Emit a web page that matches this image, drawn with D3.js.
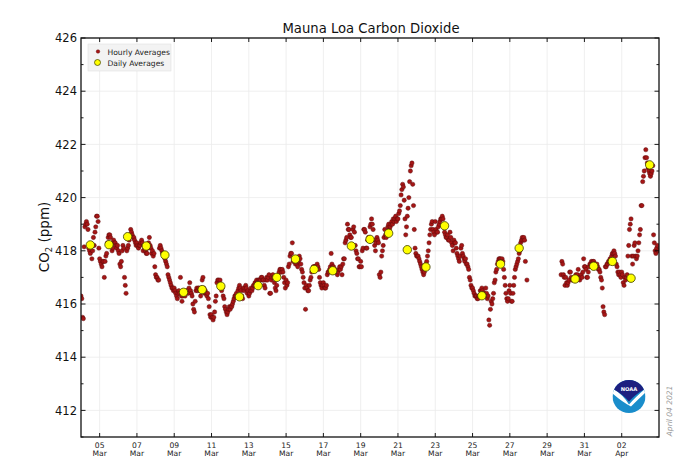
<!DOCTYPE html>
<html><head><meta charset="utf-8">
<script src="https://cdn.jsdelivr.net/npm/d3@7/dist/d3.min.js"></script>
<style>body{margin:0;background:#fff}svg{display:block;font-family:"DejaVu Sans",sans-serif}</style>
</head><body><svg id="c" width="680" height="476"></svg>
<script>
const startDate = "2021-03-04";
const xDomain = ["2021-03-04", "2021-04-04"];
const yDomain = [411, 426];
const yMajorTicks = [412, 414, 416, 418, 420, 422, 424, 426];
const yMinorTicks = [411, 413, 415, 417, 419, 421, 423, 425];
const xTickDates = ["2021-03-05","2021-03-07","2021-03-09","2021-03-11","2021-03-13","2021-03-15","2021-03-17","2021-03-19","2021-03-21","2021-03-23","2021-03-25","2021-03-27","2021-03-29","2021-03-31","2021-04-02"];
// hourly averages, one row per day (hours 0..23), null = missing
const hourlyCo2 = [
[416.3,416.2,415.5,415.45,418.15,418.9,419.0,419.1,419.0,418.8,418.1,418.0,417.9,418.2,417.7,418.0,418.5,418.2,418.7,418.9,419.3,419.3,419.1,418.1],
[417.7,417.6,417.5,417.4,417.6,417.6,417.0,417.6,417.8,417.9,418.3,418.5,418.6,418.6,418.5,418.2,418.0,418.1,418.4,418.3,418.3,418.2,418.1,418.2],
[418.0,417.9,417.5,417.4,417.6,418.0,418.2,418.1,417.0,416.7,416.4,418.0,418.1,418.2,418.4,418.6,418.8,418.7,418.6,418.5,418.5,418.4,418.3,418.2],
[418.3,418.2,418.1,418.2,418.2,418.3,418.4,418.3,418.0,418.2,418.1,418.0,417.9,417.9,418.1,418.3,418.5,418.2,418.1,417.9,418.0,417.8,417.9,417.4],
[417.1,417.0,417.0,416.9,416.9,418.1,418.2,418.1,418.0,417.9,417.9,417.8,417.7,417.6,417.5,417.4,417.1,417.0,416.9,416.8,416.7,416.6,416.6,416.5],
[416.6,416.5,416.4,416.3,416.2,416.4,416.5,416.4,417.0,416.3,416.1,416.3,416.4,416.4,416.3,416.4,416.5,416.5,416.4,416.6,416.8,416.5,416.4,416.3],
[416.0,415.8,415.7,416.1,416.5,416.6,416.5,416.6,416.6,416.5,416.3,416.6,416.9,417.0,416.6,416.4,416.5,416.4,416.3,416.4,416.2,415.9,415.6,415.5],
[415.6,415.5,415.4,415.5,415.7,416.1,416.3,416.8,416.9,416.9,416.8,416.9,416.7,416.5,416.6,416.3,416.2,415.9,415.8,415.7,415.6,415.7,415.8,415.9],
[415.8,415.9,415.9,416.0,416.1,416.2,416.3,416.3,416.4,416.3,416.5,416.6,416.7,416.6,416.5,416.3,416.2,416.6,416.5,416.6,416.7,416.6,416.4,416.5],
[416.3,416.4,416.5,416.6,416.5,416.6,416.7,416.7,416.8,416.8,416.9,416.8,416.9,416.9,416.9,416.9,417.0,417.0,416.9,416.9,416.7,416.6,416.9,417.0],
[416.9,417.0,417.1,416.4,416.4,416.9,417.0,417.1,417.0,416.8,416.6,416.5,416.7,417.0,417.1,417.2,417.3,417.3,417.2,417.3,417.2,417.0,416.8,416.6],
[416.9,416.7,416.8,417.4,417.5,417.8,417.9,417.9,418.3,417.6,417.7,417.6,417.5,417.6,417.5,417.4,417.6,417.8,417.7,417.5,417.3,417.2,417.0,416.8],
[416.6,415.8,416.7,416.6,416.5,416.5,416.7,416.9,417.0,417.2,417.3,417.4,417.4,417.4,417.4,417.4,417.5,417.4,417.3,417.0,416.8,416.7,416.6,416.7],
[416.8,416.7,416.6,416.6,416.7,417.1,417.2,417.2,417.3,417.4,417.9,417.5,417.4,417.4,417.3,417.3,417.2,417.2,417.1,417.2,417.3,417.4,417.3,417.4],
[417.1,417.5,417.7,417.7,418.3,418.4,418.5,419.0,418.8,418.8,418.6,418.5,418.5,418.2,418.8,418.9,418.7,418.2,418.0,417.9,417.7,417.7,417.4,417.4],
[417.6,417.4,418.0,418.1,418.8,418.8,418.7,418.1,418.1,418.4,418.5,418.4,418.9,419.0,419.2,419.0,418.8,418.4,418.2,418.0,418.3,418.5,418.4,418.3],
[417.1,417.0,417.2,417.8,418.0,418.2,418.5,418.8,418.6,418.5,418.7,418.9,419.0,418.8,418.9,419.0,419.1,419.0,419.2,419.1,419.2,419.3,419.1,419.2],
[419.2,419.4,419.5,419.7,420.1,420.3,420.5,420.4,419.9,419.2,418.6,418.9,419.3,419.6,420.0,420.6,421.0,421.2,421.3,420.5,419.7,418.8,418.1,417.9],
[417.8,417.8,417.8,417.7,417.6,417.5,417.4,417.3,417.2,417.1,417.2,417.4,417.5,417.6,417.8,418.0,418.3,418.6,418.8,419.0,419.1,418.8,418.7,418.6],
[419.1,418.8,418.7,418.7,418.9,419.0,419.1,419.2,419.2,419.3,419.2,418.9,418.7,418.6,418.5,418.5,418.6,418.4,418.4,418.7,418.5,418.3,418.2,418.0],
[418.4,418.3,418.3,418.1,417.9,417.8,417.7,417.6,417.8,418.1,418.2,417.9,417.8,417.7,417.6,417.7,417.5,417.5,417.4,417.3,417.0,416.9,416.7,416.6],
[416.6,416.5,416.4,416.3,416.3,416.3,416.2,416.2,416.3,416.3,416.5,416.5,416.6,416.5,416.4,416.4,416.3,416.6,416.4,416.2,416.3,415.4,415.2,415.8],
[416.1,416.0,416.2,416.4,416.8,416.9,417.2,417.3,417.5,417.6,417.7,417.7,417.7,417.6,417.7,417.6,417.3,417.0,416.7,416.4,416.2,416.1,416.2,416.5],
[416.7,416.4,416.1,416.1,416.4,416.7,417.0,417.3,417.4,417.5,417.6,417.7,417.9,418.0,418.3,418.4,418.5,418.4,418.5,418.4,417.6,null,416.9,null],
[null,null,null,null,null,null,null,null,null,null,null,null,null,null,null,null,null,null,null,null,null,null,null,null],
[null,null,null,null,null,null,null,null,null,null,null,null,null,null,null,null,null,null,417.1,417.6,417.5,417.1,417.0,416.7],
[417.0,416.8,416.7,416.8,416.9,417.2,417.2,417.0,416.9,416.9,417.0,416.9,417.0,417.1,417.0,417.1,417.3,417.0,416.9,417.0,417.1,417.0,417.2,417.7],
[417.4,417.4,417.3,417.0,417.0,417.2,417.4,417.5,417.5,417.6,417.5,417.6,417.6,417.5,417.5,417.4,417.5,417.4,417.3,417.3,417.2,417.0,416.9,416.6],
[415.9,415.7,415.6,417.4,417.4,417.5,417.5,417.6,417.6,417.7,417.7,417.8,417.9,417.9,418.0,417.9,417.8,417.5,417.4,417.2,417.1,417.2,417.1,417.0],
[417.2,417.1,416.8,416.7,417.0,416.9,417.0,417.1,417.8,418.2,418.8,419.0,419.2,417.8,417.5,417.8,418.2,418.3,417.8,417.7,417.8,418.0,418.3,418.6],
[418.8,419.7,419.7,420.6,420.8,421.0,421.5,421.8,421.5,421.3,421.1,421.0,420.9,420.8,420.9,421.0,421.2,418.6,418.3,418.0,417.9,418.1,418.2,418.0]
];
// daily averages, plotted at noon
const dailyCo2 = [418.22,418.23,418.53,418.18,417.84,416.44,416.54,416.67,416.27,416.69,417.00,417.69,417.30,417.25,418.18,418.43,418.66,418.04,417.39,418.94,null,416.31,417.50,418.10,null,null,416.94,417.42,417.60,416.97,421.23];

const svg = d3.select("#c");
const L = 81, R = 659, T = 38, B = 437;
const parse = d3.utcParse("%Y-%m-%d");
const t0 = parse(startDate);
const x = d3.scaleUtc().domain(xDomain.map(parse)).range([L, R]);
const y = d3.scaleLinear().domain(yDomain).range([B, T]);

svg.append("rect").attr("width",680).attr("height",476).attr("fill","#fff");

// grid
const grid = svg.append("g").attr("stroke","#ebebeb").attr("stroke-width",0.8);
xTickDates.forEach(d => grid.append("line").attr("x1",x(parse(d))).attr("x2",x(parse(d))).attr("y1",T).attr("y2",B));
yMajorTicks.forEach(v => grid.append("line").attr("x1",L).attr("x2",R).attr("y1",y(v)).attr("y2",y(v)));

// data
svg.append("clipPath").attr("id","pc").append("rect").attr("x",L).attr("y",T).attr("width",R-L).attr("height",B-T);
const hourly = [];
hourlyCo2.forEach((row, di) => row.forEach((v, h) => { if (v != null) hourly.push({t: d3.utcHour.offset(d3.utcDay.offset(t0, di), h), v}); }));
const daily = [];
dailyCo2.forEach((v, di) => { if (v != null) daily.push({t: d3.utcHour.offset(d3.utcDay.offset(t0, di), 12), v}); });
const pg = svg.append("g").attr("clip-path","url(#pc)");
pg.selectAll("circle.h").data(hourly).join("circle").attr("class","h")
  .attr("cx", d => x(d.t)).attr("cy", d => y(d.v)).attr("r", 2.15)
  .attr("fill","#a51616").attr("stroke","#5a0808").attr("stroke-width",0.45);
pg.selectAll("circle.d").data(daily).join("circle").attr("class","d")
  .attr("cx", d => x(d.t)).attr("cy", d => y(d.v)).attr("r", 4.2)
  .attr("fill","#ffff00").attr("stroke","#3a3a00").attr("stroke-width",0.8);

// axes: ticks inward on all sides
const ax = svg.append("g").attr("stroke","#000").attr("stroke-width",0.9);
xTickDates.forEach(d => { const xx = x(parse(d));
  ax.append("line").attr("x1",xx).attr("x2",xx).attr("y1",B).attr("y2",B-4);
  ax.append("line").attr("x1",xx).attr("x2",xx).attr("y1",T).attr("y2",T+4); });
yMajorTicks.forEach(v => { const yy = y(v);
  ax.append("line").attr("x1",L).attr("x2",L+4.5).attr("y1",yy).attr("y2",yy);
  ax.append("line").attr("x1",R).attr("x2",R-4.5).attr("y1",yy).attr("y2",yy); });
yMinorTicks.forEach(v => { const yy = y(v);
  ax.append("line").attr("x1",L).attr("x2",L+2.5).attr("y1",yy).attr("y2",yy);
  ax.append("line").attr("x1",R).attr("x2",R-2.5).attr("y1",yy).attr("y2",yy); });
svg.append("rect").attr("x",L).attr("y",T).attr("width",R-L).attr("height",B-T)
  .attr("fill","none").attr("stroke","#111").attr("stroke-width",1.3);

// tick labels
const fDay = d3.utcFormat("%d"), fMon = d3.utcFormat("%b");
xTickDates.forEach(d => { const dt = parse(d), xx = x(dt);
  const t = svg.append("text").attr("text-anchor","middle").attr("font-size",7.6).attr("fill","#222");
  t.append("tspan").attr("x",xx).attr("y",447.5).text(fDay(dt));
  t.append("tspan").attr("x",xx).attr("y",456).text(fMon(dt)); });
yMajorTicks.forEach(v => svg.append("text").attr("x",77).attr("y",y(v)).attr("dy","0.36em")
  .attr("text-anchor","end").attr("font-size",11.5).attr("fill","#111").text(v));

// title & labels
svg.append("text").attr("x",371).attr("y",33.3).attr("text-anchor","middle").attr("font-size",13.2).attr("fill","#111").text("Mauna Loa Carbon Dioxide");
const yl = svg.append("text").attr("transform","translate(49,237) rotate(-90)").attr("text-anchor","middle").attr("font-size",13.5).attr("fill","#111");
yl.append("tspan").text("CO");
yl.append("tspan").attr("font-size",8.5).attr("dy",3).text("2");
yl.append("tspan").attr("dy",-3).text(" (ppm)");
svg.append("text").attr("transform","translate(672,411) rotate(-90)").attr("text-anchor","middle")
  .attr("font-size",7.5).attr("font-style","italic").attr("fill","#9a9a9a").text("April 04 2021");

// legend
const lg = svg.append("g");
lg.append("rect").attr("x",88).attr("y",44).attr("width",83).attr("height",27).attr("fill","#f3f3f3").attr("stroke","#e2e2e2").attr("stroke-width",0.6);
lg.append("circle").attr("cx",98).attr("cy",51.5).attr("r",1.8).attr("fill","#a51616").attr("stroke","#5a0808").attr("stroke-width",0.4);
lg.append("circle").attr("cx",97.5).attr("cy",62.5).attr("r",3).attr("fill","#ffff00").attr("stroke","#3a3a00").attr("stroke-width",0.7);
lg.append("text").attr("x",107.5).attr("y",55).attr("font-size",7.6).attr("fill","#222").text("Hourly Averages");
lg.append("text").attr("x",107.5).attr("y",66).attr("font-size",7.6).attr("fill","#222").text("Daily Averages");

// NOAA logo
const cx = 629, cy = 396.5, r = 16.5;
const lgo = svg.append("g");
lgo.append("clipPath").attr("id","nc").append("circle").attr("cx",cx).attr("cy",cy).attr("r",r);
const nl = lgo.append("g").attr("clip-path","url(#nc)");
nl.append("rect").attr("x",cx-r).attr("y",cy-r).attr("width",2*r).attr("height",2*r).attr("fill","#1a8dcb");
nl.append("path").attr("fill","#fff").attr("d",
  `M${cx-r},${cy-8} Q${cx-6},${cy-2} ${cx},${cy+8} Q${cx+6},${cy+1} ${cx+r},${cy-8} L${cx+r},${cy-4} Q${cx+8},${cy+4} ${cx+2},${cy+10} Q${cx-6},${cy+6} ${cx-r},${cy-3} Z`);
nl.append("path").attr("fill","#1d1f80").attr("d",
  `M${cx-r},${cy-r} L${cx+r},${cy-r} L${cx+r},${cy-8} Q${cx+6},${cy-2} ${cx},${cy+5} Q${cx-6},${cy-2} ${cx-r},${cy-8} Z`);
lgo.append("text").attr("x",cx).attr("y",cy-5.5).attr("text-anchor","middle").attr("font-size",5.2).attr("font-weight","bold").attr("fill","#fff").text("NOAA");
</script></body></html>
